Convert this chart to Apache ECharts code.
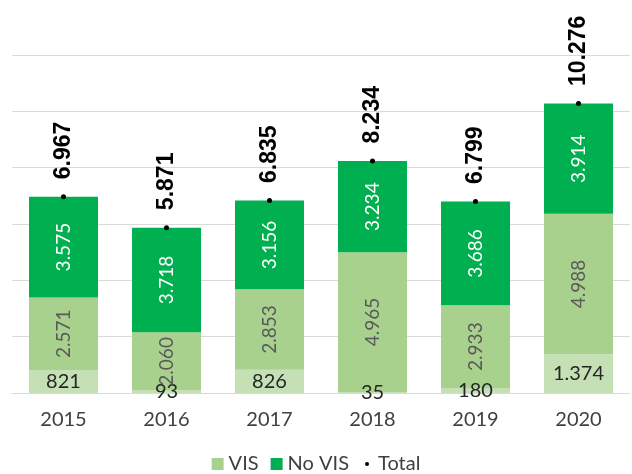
<!DOCTYPE html>
<html>
<head>
<meta charset="utf-8">
<script src="https://cdn.jsdelivr.net/npm/echarts@6/dist/echarts.min.js"></script>
<style>
  html, body { margin: 0; padding: 0; background: #fff; }
  #chart { width: 632px; height: 474px; }
</style>
</head>
<body>
<div id="chart"></div>
<script>
// datos
const years = ['2015', '2016', '2017', '2018', '2019', '2020'];
const base = [821, 93, 826, 35, 180, 1374];        // tramo inferior (sin leyenda)
const vis = [2571, 2060, 2853, 4965, 2933, 4988];
const noVis = [3575, 3718, 3156, 3234, 3686, 3914];
const total = [6967, 5871, 6835, 8234, 6799, 10276];

const FONT = 'Lato';

// separador de miles con punto
function fmt(v) {
    return String(v).replace(/\B(?=(\d{3})+(?!\d))/g, '.');
}

let chart = echarts.init(document.getElementById('chart'));

let option = {
    animation: false,
    grid: { left: 12, right: 2, top: 55, bottom: 81 },
    legend: {
        bottom: -5,
        left: 'center',
        itemWidth: 12,
        itemHeight: 12,
        itemGap: 12,
        textStyle: { fontFamily: FONT, fontSize: 20, color: '#404040' },
        data: [
            { name: 'VIS', icon: 'rect' },
            { name: 'No VIS', icon: 'rect' },
            { name: 'Total', icon: 'path://M0,0M12,12M6,4A2,2,0,1,1,5.99,4Z' }
        ]
    },
    xAxis: {
        type: 'category',
        data: years,
        axisTick: { show: false },
        axisLine: { lineStyle: { color: '#d9d9d9', width: 1 } },
        axisLabel: { fontFamily: FONT, fontSize: 20, color: '#404040', margin: 17 }
    },
    yAxis: {
        type: 'value',
        min: 0,
        max: 12000,
        interval: 2000,
        axisLabel: { show: false },
        axisLine: { show: false },
        axisTick: { show: false },
        splitLine: { lineStyle: { color: '#d9d9d9', width: 1 } }
    },
    series: [
        {
            name: 'Base',
            type: 'bar',
            stack: 'a',
            barCategoryGap: '33%',
            data: base,
            itemStyle: { color: '#C5E0B4' },
            label: {
                show: true,
                position: 'inside',
                formatter: p => fmt(p.value),
                fontFamily: FONT, fontSize: 20, color: '#262626'
            }
        },
        {
            name: 'VIS',
            type: 'bar',
            stack: 'a',
            data: vis,
            itemStyle: { color: '#A9D18E' },
            label: {
                show: true,
                position: 'inside',
                rotate: 90,
                formatter: p => fmt(p.value),
                fontFamily: FONT, fontSize: 19, color: '#595959'
            }
        },
        {
            name: 'No VIS',
            type: 'bar',
            stack: 'a',
            data: noVis,
            itemStyle: { color: '#00B050' },
            label: {
                show: true,
                position: 'inside',
                rotate: 90,
                formatter: p => fmt(p.value),
                fontFamily: FONT, fontSize: 19, color: '#ffffff'
            }
        },
        {
            name: 'Total',
            type: 'line',
            data: total,
            symbol: 'circle',
            symbolSize: 5,
            itemStyle: { color: '#000' },
            lineStyle: { width: 0, opacity: 0 },
            label: {
                show: true,
                position: 'top',
                distance: 15,
                rotate: 90,
                align: 'left',
                verticalAlign: 'middle',
                formatter: p => fmt(p.value),
                fontFamily: 'Liberation Sans',
                fontWeight: 'bold',
                fontSize: 23,
                color: '#000'
            }
        }
    ]
};

chart.setOption(option);
</script>
</body>
</html>
